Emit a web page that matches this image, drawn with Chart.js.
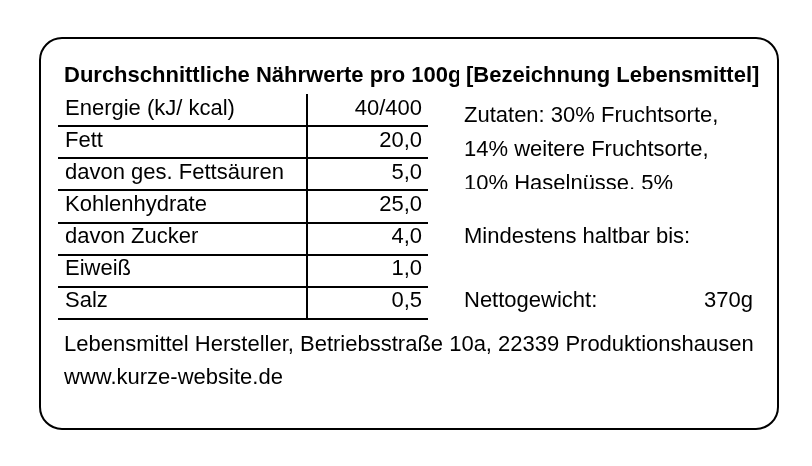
<!DOCTYPE html>
<html lang="de">
<head>
<meta charset="utf-8">
<title>Nährwerte</title>
<script src="https://cdn.jsdelivr.net/npm/chart.js@4.4.1/dist/chart.umd.min.js"></script>
<style>
  html, body { margin: 0; padding: 0; background: #fff; }
  #box { width: 812px; height: 466px; }
</style>
</head>
<body>
<div id="box"><canvas id="etikett"></canvas></div>
<script>
// Tabelle
const naehrstoffe = ["Energie (kJ/ kcal)", "Fett", "davon ges. Fettsäuren", "Kohlenhydrate", "davon Zucker", "Eiweiß", "Salz"];
const werte = ["40/400", "20,0", "5,0", "25,0", "4,0", "1,0", "0,5"];

// Texte rundherum
const titel = "Durchschnittliche Nährwerte pro 100g";
const bezeichnung = "[Bezeichnung Lebensmittel]";
const zutaten = ["Zutaten: 30% Fruchtsorte,", "14% weitere Fruchtsorte,", "10% Haselnüsse, 5%"];
const haltbar = "Mindestens haltbar bis:";
const gewichtText = "Nettogewicht:";
const gewicht = "370g";
const hersteller = ["Lebensmittel Hersteller, Betriebsstraße 10a, 22339 Produktionshausen", "www.kurze-website.de"];

// Position der senkrechten Linie (x-Wert auf der Skala 0..370)
const trennlinie = 249;

const schrift = "'Liberation Sans', Arial, Helvetica, sans-serif";

// Rahmen + alle Texte
const etikettPlugin = {
  id: "etikett",
  beforeDraw(chart) {
    const c = chart.ctx;
    c.save();
    c.lineWidth = 2;
    c.strokeStyle = "#000";
    c.beginPath();
    c.roundRect(40, 38, 738, 391, 22);
    c.stroke();
    c.restore();
  },
  afterDraw(chart) {
    const c = chart.ctx;
    const y = chart.scales.y;
    const area = chart.chartArea;
    c.save();
    c.fillStyle = "#000";
    c.textBaseline = "middle";

    // Überschrift (abgeschnitten vor der Bezeichnung)
    c.font = "bold 22px " + schrift;
    c.save();
    c.beginPath();
    c.rect(0, 0, 459, 120);
    c.clip();
    c.textAlign = "left";
    c.fillText(titel, 64, 76);
    c.restore();
    c.fillText(bezeichnung, 466, 76);

    // Tabellenzeilen
    c.font = "22px " + schrift;
    naehrstoffe.forEach((name, i) => {
      const py = y.getPixelForValue(i) - 1.5;
      c.textAlign = "left";
      c.fillText(name, area.left + 7, py);
      c.textAlign = "right";
      c.fillText(werte[i], area.right - 6, py);
    });

    // Zutaten, unten abgeschnitten
    c.textAlign = "left";
    c.save();
    c.beginPath();
    c.rect(440, 95, 330, 94);
    c.clip();
    zutaten.forEach((z, i) => c.fillText(z, 464, 116 + i * 34));
    c.restore();

    c.fillText(haltbar, 464, y.getPixelForValue(4) - 1.5);
    const pySalz = y.getPixelForValue(6) - 2;
    c.fillText(gewichtText, 464, pySalz);
    c.textAlign = "right";
    c.fillText(gewicht, 753, pySalz);

    // Hersteller
    c.textAlign = "left";
    hersteller.forEach((h, i) => c.fillText(h, 64, 345 + i * 33));
    c.restore();
  },
};

const ctx = document.getElementById("etikett").getContext("2d");
const etikett = new Chart(ctx, {
  type: "bar",
  data: {
    labels: naehrstoffe,
    datasets: [],
  },
  options: {
    indexAxis: "y",
    responsive: true,
    maintainAspectRatio: false,
    animation: false,
    events: [],
    layout: {
      padding: { left: 58, right: 384, top: 94, bottom: 147 },
    },
    plugins: {
      legend: { display: false },
      tooltip: { enabled: false },
      title: { display: false },
    },
    scales: {
      x: {
        type: "linear",
        min: 0,
        max: 370,
        afterBuildTicks: (s) => { s.ticks = [{ value: trennlinie }]; },
        ticks: { display: false },
        border: { display: false },
        grid: { color: "#000", lineWidth: 2, drawTicks: false },
      },
      y: {
        type: "category",
        offset: true,
        ticks: { display: false },
        border: { display: false },
        grid: {
          offset: true,
          drawTicks: false,
          lineWidth: 2,
          // oberste Linie gibt es nicht
          color: (g) => (g.index === 0 ? "rgba(0,0,0,0)" : "#000"),
        },
      },
    },
  },
  plugins: [etikettPlugin],
});
</script>
</body>
</html>
